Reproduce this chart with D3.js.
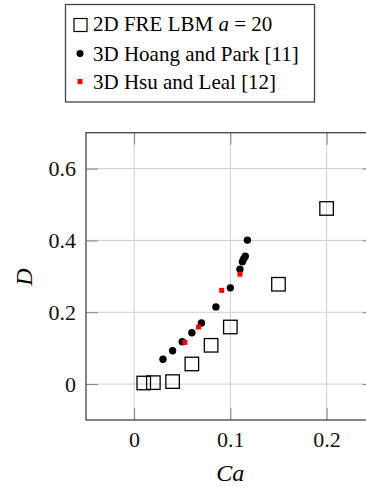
<!DOCTYPE html>
<html><head><meta charset="utf-8">
<script src="https://cdn.jsdelivr.net/npm/d3@7"></script>
<style>body{margin:0;background:#fff;overflow:hidden}svg{display:block}
text{font-family:"Liberation Serif","Times New Roman",serif !important;}</style>
</head><body>
<script>
const lbmCa = [0.01, 0.02, 0.04, 0.06, 0.08, 0.10, 0.15, 0.20];
const lbmD  = [0.003, 0.004, 0.007, 0.056, 0.108, 0.159, 0.278, 0.489];
const hpCa = [0.03, 0.04, 0.05, 0.06, 0.07, 0.085, 0.10, 0.11, 0.1125, 0.114, 0.1155, 0.1177];
const hpD  = [0.069, 0.093, 0.118, 0.143, 0.170, 0.215, 0.268, 0.320, 0.341, 0.349, 0.356, 0.401];
const hlCa = [0.0527, 0.067, 0.091, 0.110];
const hlD  = [0.116, 0.159, 0.261, 0.306];
const xTicks = [0, 0.1, 0.2];
const yTicks = [0, 0.2, 0.4, 0.6];
const legendLabels = ["2D FRE LBM ", "3D Hoang and Park [11]", "3D Hsu and Leal [12]"];

const W = 366, H = 487;
const svg = d3.select("body").append("svg").attr("width", W).attr("height", H);
const font = "Liberation Serif";
const L = 86, R = 374.7, T = 132.7, B = 420;
const x = d3.scaleLinear().domain([-0.05, 0.25]).range([L, R]);
const y = d3.scaleLinear().domain([-0.1, 0.7]).range([B, T]);

const g = svg.append("g");
// grid
g.selectAll(".gx").data(xTicks).join("line")
  .attr("x1", d => x(d)).attr("x2", d => x(d)).attr("y1", T).attr("y2", B)
  .attr("stroke", "#cfcfcf").attr("stroke-width", 1);
g.selectAll(".gy").data(yTicks).join("line")
  .attr("y1", d => y(d)).attr("y2", d => y(d)).attr("x1", L).attr("x2", R)
  .attr("stroke", "#cfcfcf").attr("stroke-width", 1);

// axes with inward ticks
const tl = 12;
const axB = d3.axisBottom(x).tickValues(xTicks).tickSize(-tl).tickPadding(11).tickFormat(d3.format("~g"));
const axT = d3.axisTop(x).tickValues(xTicks).tickSize(-tl).tickFormat("");
const axL = d3.axisLeft(y).tickValues(yTicks).tickSize(-tl).tickPadding(10).tickFormat(d3.format("~g"));
const axR = d3.axisRight(y).tickValues(yTicks).tickSize(-tl).tickFormat("");
function style(sel) {
  sel.attr("font-family", font);
  sel.select(".domain").remove();
  sel.selectAll(".tick line").attr("stroke", "#808080").attr("stroke-width", 1);
  sel.selectAll(".tick text").style("font-family", font).attr("font-size", 22).attr("fill", "#111");
}
g.append("g").attr("transform", `translate(0,${B})`).call(axB).call(style);
g.append("g").attr("transform", `translate(0,${T})`).call(axT).call(style);
g.append("g").attr("transform", `translate(${L},0)`).call(axL).call(style);
g.append("g").attr("transform", `translate(${R},0)`).call(axR).call(style);

g.append("rect").attr("x", L).attr("y", T).attr("width", R - L).attr("height", B - T)
  .attr("fill", "none").attr("stroke", "#444").attr("stroke-width", 1.3);

// data
const lbm = lbmCa.map((c, i) => [c, lbmD[i]]);
const hp = hpCa.map((c, i) => [c, hpD[i]]);
const hl = hlCa.map((c, i) => [c, hlD[i]]);
const S = 13.5;
g.selectAll(".lbm").data(lbm).join("rect")
  .attr("x", d => x(d[0]) - S / 2).attr("y", d => y(d[1]) - S / 2)
  .attr("width", S).attr("height", S).attr("fill", "none").attr("stroke", "#000").attr("stroke-width", 1.3);
g.selectAll(".hp").data(hp).join("circle")
  .attr("cx", d => x(d[0])).attr("cy", d => y(d[1])).attr("r", 3.7).attr("fill", "#000");
const s2 = 5;
g.selectAll(".hl").data(hl).join("rect")
  .attr("x", d => x(d[0]) - s2 / 2).attr("y", d => y(d[1]) - s2 / 2)
  .attr("width", s2).attr("height", s2).attr("fill", "#ff0000");

// axis labels
svg.append("text").attr("x", (L + R) / 2).attr("y", 481).attr("text-anchor", "middle")
  .style("font-family", font).attr("font-style", "italic").attr("font-size", 24).text("Ca");
svg.append("text").attr("transform", `translate(31.5,277) rotate(-90)`).attr("text-anchor", "middle")
  .style("font-family", font).attr("font-style", "italic").attr("font-size", 24).text("D");

// legend
const lg = svg.append("g");
lg.append("rect").attr("x", 65.5).attr("y", 4.5).attr("width", 249).attr("height", 97.5)
  .attr("fill", "#fff").attr("stroke", "#444").attr("stroke-width", 1.3);
const rows = [31, 61, 89];
lg.append("rect").attr("x", 74).attr("y", 18.5).attr("width", 13).attr("height", 13)
  .attr("fill", "none").attr("stroke", "#000").attr("stroke-width", 1.2);
lg.append("circle").attr("cx", 80).attr("cy", 53.5).attr("r", 3.5).attr("fill", "#000");
lg.append("rect").attr("x", 77.5).attr("y", 79).attr("width", 5).attr("height", 5).attr("fill", "#ff0000");
const t0 = lg.append("text").attr("x", 93).attr("y", rows[0]).style("font-family", font).attr("font-size", 21);
t0.append("tspan").text(legendLabels[0]);
t0.append("tspan").attr("font-style", "italic").text("a");
t0.append("tspan").text(" = 20");
lg.append("text").attr("x", 93).attr("y", rows[1]).style("font-family", font).attr("font-size", 21).text(legendLabels[1]);
lg.append("text").attr("x", 93).attr("y", rows[2]).style("font-family", font).attr("font-size", 21).text(legendLabels[2]);
</script>
</body></html>
